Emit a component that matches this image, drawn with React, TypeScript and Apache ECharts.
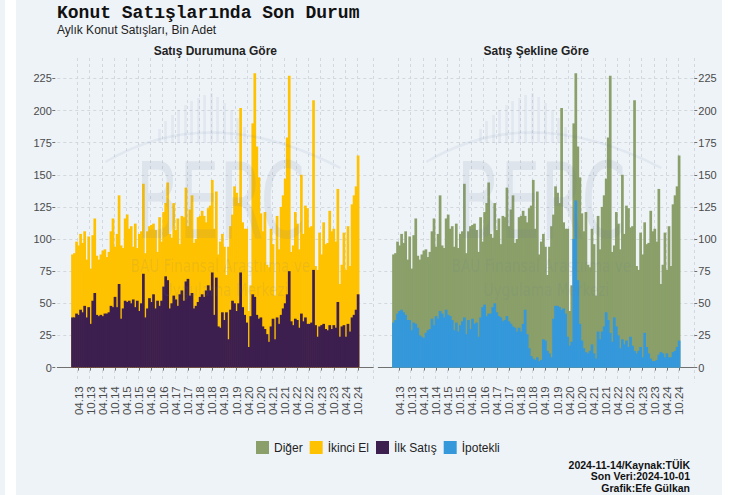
import React, { useEffect, useRef } from "react";
import * as echarts from "echarts";

// ---- data (bin adet), monthly, 2013-01 .. 2024-10 ----
const START_YEAR = 2013;

const toplam = [
  88, 89, 98, 95, 104, 97, 106, 84, 102, 77, 103, 116, // 2013
  87, 84, 88, 91, 92, 86, 90, 106, 116, 94, 104, 134, // 2014
  95, 93, 116, 119, 108, 110, 94, 112, 93, 104, 106, 143, // 2015
  89, 106, 110, 111, 112, 107, 90, 117, 98, 121, 128, 144, // 2016
  104, 101, 128, 107, 116, 96, 118, 117, 140, 110, 123, 134, // 2017
  97, 100, 117, 118, 122, 118, 113, 124, 126, 146, 108, 137, // 2018
  88, 98, 104, 94, 72, 94, 110, 119, 141, 136, 128, 202, // 2019
  113, 108, 108, 44, 64, 190, 229, 172, 148, 120, 106, 121, // 2020
  80, 78, 108, 96, 56, 118, 92, 125, 134, 147, 179, 227, // 2021
  90, 95, 121, 112, 92, 150, 104, 126, 124, 109, 110, 208, // 2022
  79, 76, 105, 88, 113, 96, 97, 122, 106, 108, 98, 139, // 2023
  65, 80, 105, 76, 110, 79, 127, 134, 141, 165, // 2024
];

const ilkSatis = [
  39, 39, 42, 41, 45, 43, 48, 39, 47, 34, 52, 58,
  41, 40, 41, 40, 42, 42, 43, 48, 47, 55, 47, 65,
  38, 46, 52, 51, 52, 50, 53, 47, 52, 44, 50, 73,
  39, 46, 54, 51, 57, 46, 52, 48, 52, 63, 71, 68,
  46, 50, 56, 53, 48, 57, 60, 52, 67, 69, 56, 58,
  46, 48, 51, 55, 57, 55, 60, 64, 60, 74, 41, 70,
  32, 31, 43, 37, 43, 22, 45, 52, 50, 44, 50, 74,
  47, 41, 35, 16, 40, 57, 55, 41, 38, 39, 32, 30,
  26, 20, 32, 38, 22, 39, 34, 41, 46, 50, 57, 75,
  36, 33, 38, 37, 31, 42, 36, 39, 34, 34, 35, 76,
  33, 24, 32, 33, 34, 30, 29, 33, 30, 33, 31, 51,
  24, 32, 33, 24, 34, 28, 39, 41, 45, 57,
];

const ipotekli = [
  35, 37, 42, 44, 45, 43, 41, 37, 37, 29, 35, 34,
  31, 25, 24, 23, 27, 29, 30, 38, 33, 40, 38, 44,
  42, 39, 45, 41, 40, 37, 29, 35, 28, 33, 36, 39,
  26, 37, 30, 38, 34, 35, 24, 39, 47, 49, 40, 42,
  42, 47, 50, 43, 40, 39, 36, 37, 40, 36, 34, 32,
  31, 28, 31, 28, 34, 45, 26, 15, 9, 7, 6, 8,
  5, 6, 22, 21, 13, 11, 8, 38, 48, 48, 47, 45,
  46, 42, 24, 17, 20, 100, 130, 68, 34, 21, 15, 12,
  11, 13, 18, 11, 7, 28, 22, 28, 32, 43, 37, 27,
  20, 39, 32, 25, 15, 22, 18, 21, 16, 24, 17, 13,
  11, 13, 16, 8, 27, 16, 11, 7, 5, 5, 6, 10,
  12, 11, 8, 11, 8, 8, 12, 13, 16, 21,
];

const yTicks = [0, 25, 50, 75, 100, 125, 150, 175, 200, 225];
const legendNames = ["Diğer", "İkinci El", "İlk Satış", "İpotekli"];
const footerLines = ["2024-11-14/Kaynak:TÜİK", "Son Veri:2024-10-01", "Grafik:Efe Gülkan"];

const COLORS = {
  ilk: "#3d1f4f",
  ikinci: "#ffc200",
  ipotekli: "#3498db",
  diger: "#8a9f69",
};

const N = toplam.length;
const PAD = 7;
const monthLabels: string[] = [];
for (let i = 0; i < N; i++) {
  const y = START_YEAR + Math.floor(i / 12);
  const m = (i % 12) + 1;
  monthLabels.push(`${String(m).padStart(2, "0")}.${String(y % 100).padStart(2, "0")}`);
}
const padNames = (p: string) => Array.from({ length: PAD }, (_, k) => `${p}${k}`);
const categories = [...padNames("a"), ...monthLabels, ...padNames("b")];
const padData = (arr: number[]) => [
  ...Array(PAD).fill(null),
  ...arr,
  ...Array(PAD).fill(null),
];

const FONT = "'Liberation Sans', Arial, Helvetica, sans-serif";
const BG = "#eef3f8";
const GRID_TOP = 58;
const GRID_H = 324.3;
const PANEL_W = 316;
const LEFT_X = 57.3;
const RIGHT_X = 378.3;
const BAR_W = 2.7;

const labelInterval = (i: number) => {
  const d = i - PAD;
  return d >= 0 && d < N && d % 6 === 3;
};

function makeXAxis(gridIndex: number) {
  return {
    type: "category",
    gridIndex,
    data: categories,
    boundaryGap: true,
    axisLine: { show: true, lineStyle: { color: "#707070", width: 1 } },
    axisTick: {
      show: true,
      interval: labelInterval,
      alignWithLabel: true,
      length: 3,
      lineStyle: { color: "#707070" },
    },
    axisLabel: {
      interval: labelInterval,
      rotate: 90,
      fontSize: 11.5,
      color: "#4a4a4a",
      margin: 4,
      fontFamily: FONT,
    },
    splitLine: {
      show: true,
      interval: labelInterval,
      lineStyle: { color: "#d3d8de", type: [3, 3], width: 1 },
    },
  };
}

function makeYAxis(gridIndex: number, position: "left" | "right") {
  return {
    type: "value",
    gridIndex,
    position,
    min: -11.47,
    max: 240.87,
    offset: position === "left" ? 2 : 0,
    axisLine: { show: false },
    axisTick: {
      show: true,
      length: 3,
      customValues: yTicks,
      lineStyle: { color: "#707070" },
    },
    axisLabel: {
      customValues: yTicks,
      fontSize: 11,
      color: "#4a4a4a",
      margin: position === "left" ? 3.5 : 4,
      fontFamily: FONT,
    },
    splitLine: {
      show: true,
      lineStyle: { color: "#d3d8de", type: [3, 3], width: 1 },
    },
  };
}

function watermark(cx: number) {
  const c = "rgba(105,125,150,0.12)";
  const iconBars = [
    [-62, 14], [-56, 22], [-49, 28], [-43, 33], [-36, 38], [-30, 42], [-23, 45],
    [-17, 48], [-10, 50], [-4, 46], [3, 40], [10, 33], [16, 25], [23, 16],
  ];
  const els: any[] = iconBars.map(([dx, h]) => ({
    type: "rect",
    z: 50,
    silent: true,
    shape: { x: cx + dx, y: 143 - h, width: 2.5, height: h },
    style: { fill: "rgba(105,125,150,0.09)" },
  }));
  els.push({
    type: "bezierCurve",
    z: 50,
    silent: true,
    shape: { x1: cx - 115, y1: 162, cpx1: cx - 10, cpy1: 100, x2: cx + 120, y2: 168 },
    style: { stroke: "rgba(105,125,150,0.09)", lineWidth: 2.5, fill: "none" },
  });
  els.push({
    type: "text",
    z: 50,
    silent: true,
    x: cx,
    y: 202,
    scaleX: 0.6,
    style: {
      text: "BERC",
      fill: c,
      font: "normal 106px 'DejaVu Sans', sans-serif",
      align: "center",
      verticalAlign: "middle",
    },
  });
  els.push({
    type: "text",
    z: 50,
    silent: true,
    x: cx,
    y: 266,
    scaleX: 0.8,
    style: {
      text: "BAU Finansal Araştırma ve",
      fill: c,
      font: "normal 17px 'DejaVu Sans', sans-serif",
      align: "center",
      verticalAlign: "middle",
    },
  });
  els.push({
    type: "text",
    z: 50,
    silent: true,
    x: cx + 5,
    y: 290,
    scaleX: 0.8,
    style: {
      text: "Uygulama Merkezi",
      fill: c,
      font: "normal 17px 'DejaVu Sans', sans-serif",
      align: "center",
      verticalAlign: "middle",
    },
  });
  return els;
}

export default function App() {
  const ref = useRef<HTMLDivElement>(null);

  useEffect(() => {
    if (!ref.current) return;
    const chart = echarts.init(ref.current, null, { renderer: "svg" });

    const option: any = {
      animation: false,
      backgroundColor: "transparent",
      textStyle: { fontFamily: FONT },
      grid: [
        { left: LEFT_X, top: GRID_TOP, width: PANEL_W, height: GRID_H },
        { left: RIGHT_X, top: GRID_TOP, width: PANEL_W, height: GRID_H },
      ],
      xAxis: [makeXAxis(0), makeXAxis(1)],
      yAxis: [makeYAxis(0, "left"), makeYAxis(1, "right")],
      legend: {
        data: legendNames,
        left: 251,
        top: 436,
        itemWidth: 13,
        itemHeight: 13,
        itemGap: 7,
        icon: "rect",
        selectedMode: false,
        textStyle: { fontSize: 12, color: "#222", fontFamily: FONT },
      },
      series: [
        {
          name: "İkinci El",
          type: "bar",
          xAxisIndex: 0,
          yAxisIndex: 0,
          data: padData(toplam),
          barWidth: BAR_W,
          itemStyle: { color: COLORS.ikinci },
        },
        {
          name: "İlk Satış",
          type: "bar",
          xAxisIndex: 0,
          yAxisIndex: 0,
          data: padData(ilkSatis),
          barWidth: BAR_W,
          barGap: "-100%",
          itemStyle: { color: COLORS.ilk },
        },
        {
          name: "Diğer",
          type: "bar",
          xAxisIndex: 1,
          yAxisIndex: 1,
          data: padData(toplam),
          barWidth: BAR_W,
          itemStyle: { color: COLORS.diger },
        },
        {
          name: "İpotekli",
          type: "bar",
          xAxisIndex: 1,
          yAxisIndex: 1,
          data: padData(ipotekli),
          barWidth: BAR_W,
          barGap: "-100%",
          itemStyle: { color: COLORS.ipotekli },
        },
      ],
      graphic: [
        {
          type: "text",
          x: 57,
          y: 12.5,
          style: {
            text: "Konut Satışlarında Son Durum",
            fill: "#111",
            font: "bold 18px 'Liberation Mono', 'Courier New', monospace",
            align: "left",
            verticalAlign: "middle",
          },
        },
        {
          type: "text",
          x: 57,
          y: 30,
          style: {
            text: "Aylık Konut Satışları, Bin Adet",
            fill: "#222",
            font: `normal 12px ${FONT}`,
            align: "left",
            verticalAlign: "middle",
          },
        },
        {
          type: "text",
          x: LEFT_X + PANEL_W / 2,
          y: 50.5,
          style: {
            text: "Satış Durumuna Göre",
            fill: "#222",
            font: `bold 12px ${FONT}`,
            align: "center",
            verticalAlign: "middle",
          },
        },
        {
          type: "text",
          x: RIGHT_X + PANEL_W / 2,
          y: 50.5,
          style: {
            text: "Satış Şekline Göre",
            fill: "#222",
            font: `bold 12px ${FONT}`,
            align: "center",
            verticalAlign: "middle",
          },
        },
        ...footerLines.map((t, i) => ({
          type: "text",
          x: 690,
          y: 464.5 + i * 11.8,
          style: {
            text: t,
            fill: "#111",
            font: `bold 10.5px ${FONT}`,
            align: "right",
            verticalAlign: "middle",
          },
        })),
        ...watermark(LEFT_X + PANEL_W / 2 + 5),
        ...watermark(RIGHT_X + PANEL_W / 2 + 5),
      ],
    };

    chart.setOption(option);
    return () => chart.dispose();
  }, []);

  return (
    <div
      style={{
        position: "absolute",
        left: 0,
        top: 0,
        width: 734,
        height: 495,
        background: "#ffffff",
        overflow: "hidden",
      }}
    >
      <div style={{ position: "absolute", left: 0, top: 0, width: 5, height: 495, background: BG }} />
      <div style={{ position: "absolute", left: 16, top: 0, width: 706, height: 495, background: BG }} />
      <div ref={ref} style={{ position: "absolute", left: 0, top: 0, width: 734, height: 495 }} />
    </div>
  );
}
